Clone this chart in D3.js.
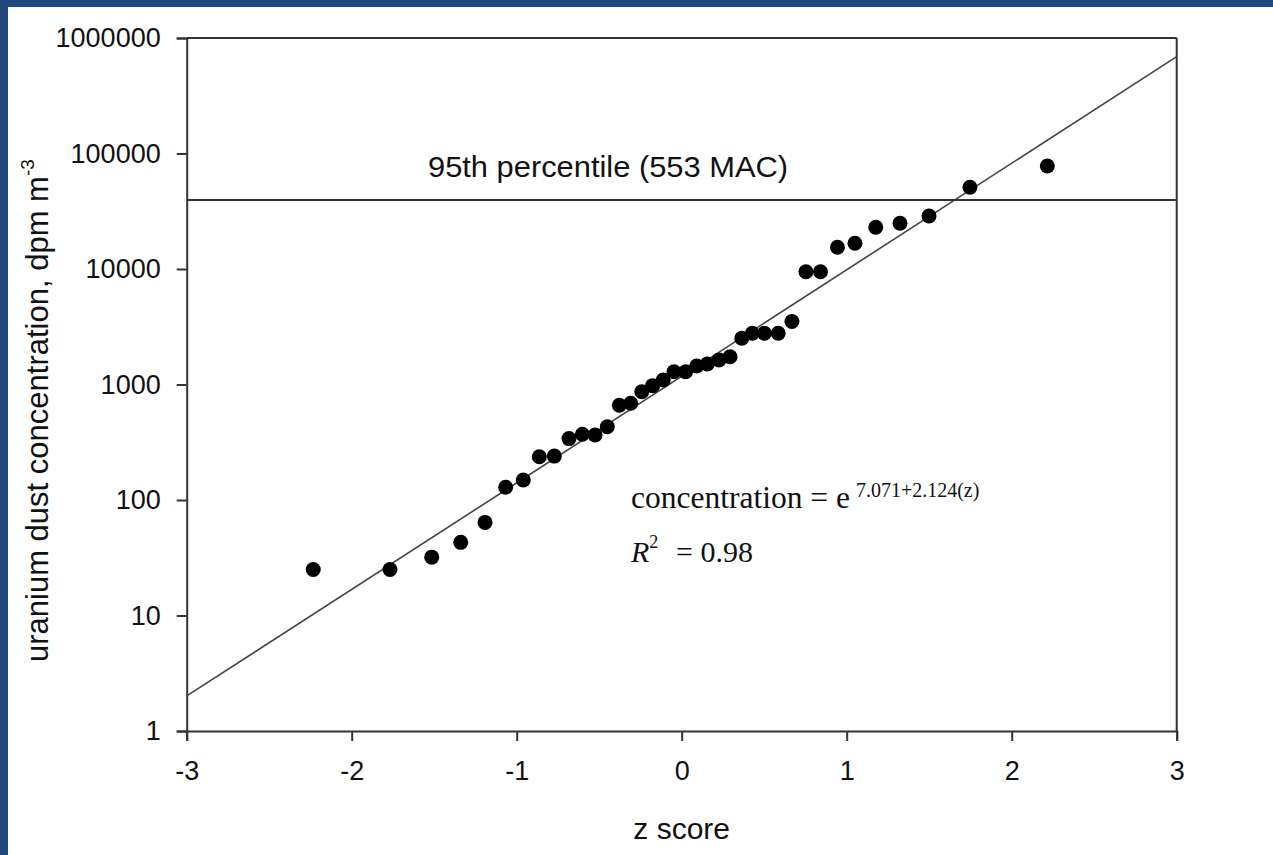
<!DOCTYPE html>
<html>
<head>
<meta charset="utf-8">
<script src="https://cdn.jsdelivr.net/npm/d3@7"></script>
<style>
  html, body { margin: 0; padding: 0; background: #ffffff; }
  svg { display: block; }
</style>
</head>
<body>
<svg id="chart" width="1273" height="855"></svg>
<script>
// ---- data ----
const zScores = [-2.233, -1.768, -1.515, -1.339, -1.192, -1.067, -0.960, -0.863, -0.772, -0.683,
                 -0.602, -0.525, -0.451, -0.378, -0.309, -0.242, -0.176, -0.112, -0.047, 0.024,
                 0.091, 0.155, 0.226, 0.293, 0.364, 0.428, 0.501, 0.585, 0.668, 0.753,
                 0.841, 0.944, 1.050, 1.176, 1.323, 1.499, 1.747, 2.216];
const concentrations = [25, 25, 32, 43, 64, 129, 149, 237, 240, 340,
                        371, 365, 431, 661, 688, 866, 977, 1094, 1291, 1291,
                        1446, 1504, 1630, 1741, 2512, 2775, 2775, 2775, 3510, 9480,
                        9480, 15410, 16690, 22960, 24880, 28770, 50970, 77940];
const xTicks = [-3, -2, -1, 0, 1, 2, 3];
const yTicks = [1, 10, 100, 1000, 10000, 100000, 1000000];
const fitIntercept = 7.071;   // ln(concentration) = 7.071 + 2.124 z
const fitSlope = 2.124;
const percentile95 = 39500;
const percentileLabel = "95th percentile (553 MAC)";
const xTitle = "z score";
const yTitle = "uranium dust concentration, dpm m";
const rSquared = "0.98";

(function () {
// ---- layout ----
const svg = d3.select("#chart");
const pLeft = 186.7, pRight = 1176.7, pTop = 38, pBottom = 731;
const x = d3.scaleLinear().domain([-3, 3]).range([pLeft, pRight]);
const y = d3.scaleLog().domain([1, 1000000]).range([pBottom, pTop]);
const axisColor = "#333333";
const sans = "'Liberation Sans', Arial, sans-serif";
const serif = "'Liberation Serif', 'Times New Roman', serif";

// blue frame (top and left)
svg.append("rect").attr("x", 0).attr("y", 0).attr("width", 1273).attr("height", 7).attr("fill", "#1f497d");
svg.append("rect").attr("x", 0).attr("y", 0).attr("width", 8).attr("height", 855).attr("fill", "#1f497d");

// frame lines (top and right)
svg.append("line").attr("x1", pLeft).attr("x2", pRight).attr("y1", pTop).attr("y2", pTop)
  .attr("stroke", axisColor).attr("stroke-width", 2);
svg.append("line").attr("x1", pRight).attr("x2", pRight).attr("y1", pTop).attr("y2", pBottom)
  .attr("stroke", axisColor).attr("stroke-width", 2);

// axes
const yAxis = svg.append("g").attr("transform", `translate(${pLeft},0)`)
  .call(d3.axisLeft(y).tickValues(yTicks).tickFormat(d3.format("d")).tickSize(10).tickPadding(16));
const xAxis = svg.append("g").attr("transform", `translate(0,${pBottom})`)
  .call(d3.axisBottom(x).tickValues(xTicks).tickFormat(d => d < 0 ? "-" + Math.abs(d) : String(d)).tickSize(10).tickPadding(20));
[yAxis, xAxis].forEach(g => {
  g.select(".domain").attr("stroke", axisColor).attr("stroke-width", 2);
  g.selectAll(".tick line").attr("stroke", axisColor).attr("stroke-width", 2);
  g.selectAll(".tick text").attr("font-family", sans).attr("font-size", 27).attr("fill", "#111");
});

// regression line
const fitLine = d3.line().x(d => x(d)).y(d => y(Math.exp(fitIntercept + fitSlope * d)));
svg.append("path").datum([-3, 3]).attr("d", fitLine)
  .attr("fill", "none").attr("stroke", "#444").attr("stroke-width", 1.6);

// 95th percentile line
svg.append("line").attr("x1", pLeft).attr("x2", pRight)
  .attr("y1", y(percentile95)).attr("y2", y(percentile95))
  .attr("stroke", axisColor).attr("stroke-width", 2);
svg.append("text").attr("x", 428).attr("y", 177)
  .attr("font-family", sans).attr("font-size", 30).attr("fill", "#111")
  .attr("textLength", 360).attr("lengthAdjust", "spacingAndGlyphs")
  .text(percentileLabel);

// points
svg.append("g").selectAll("circle").data(zScores).join("circle")
  .attr("cx", d => x(d)).attr("cy", (d, i) => y(concentrations[i]))
  .attr("r", 7.5).attr("fill", "#000");

// equation
const eq = svg.append("text").attr("x", 631).attr("y", 508)
  .attr("font-family", serif).attr("font-size", 31.5).attr("fill", "#111");
eq.append("tspan").text("concentration = e");
eq.append("tspan").attr("font-size", 20).attr("dy", -11).attr("dx", 6)
  .text(`${fitIntercept}+${fitSlope}(z)`);

const r2 = svg.append("text").attr("x", 631).attr("y", 562)
  .attr("font-family", serif).attr("font-size", 30).attr("fill", "#111");
r2.append("tspan").attr("font-style", "italic").text("R");
r2.append("tspan").attr("font-size", 18).attr("dy", -14).text("2");
r2.append("tspan").attr("x", 676).attr("dy", 14).text("= " + rSquared);

// axis titles
svg.append("text").attr("x", (pLeft + pRight) / 2).attr("y", 839)
  .attr("text-anchor", "middle").attr("font-family", sans).attr("font-size", 30).attr("fill", "#111")
  .text(xTitle);
const yt = svg.append("text").attr("transform", "translate(48,662) rotate(-90)")
  .attr("font-family", sans).attr("font-size", 31).attr("fill", "#111");
yt.append("tspan").text(yTitle);
yt.append("tspan").attr("font-size", 19).attr("dy", -14).text("-3");
})();
</script>
</body>
</html>
